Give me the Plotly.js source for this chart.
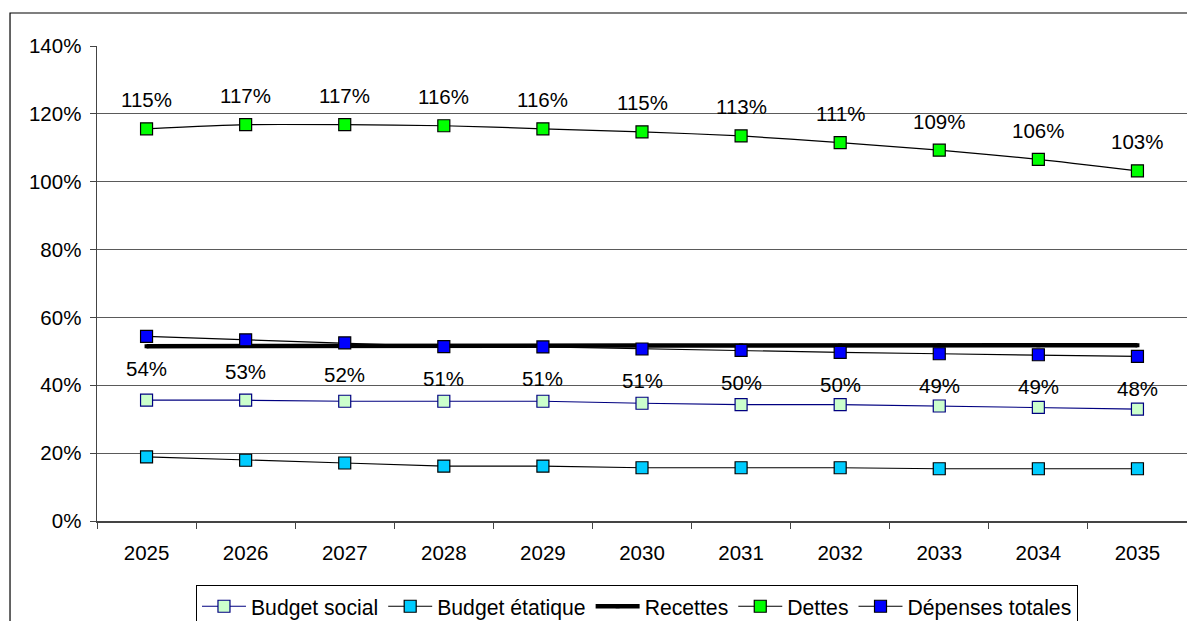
<!DOCTYPE html>
<html><head><meta charset="utf-8">
<script src="https://cdn.plot.ly/plotly-3.0.1.min.js"></script>
<style>html,body{margin:0;padding:0;background:#fff}#chart{width:1187px;height:621px}</style>
</head><body><div id="chart"></div>
<script>
const years = ['2025','2026','2027','2028','2029','2030','2031','2032','2033','2034','2035'];
const budgetSocial = [35.6,35.6,35.3,35.3,35.3,34.7,34.3,34.3,33.9,33.5,33.0];
const budgetEtatique = [18.9,17.9,17.1,16.2,16.2,15.7,15.7,15.7,15.4,15.4,15.4];
const recettes = [51.5,51.6,51.6,51.6,51.7,51.7,51.7,51.7,51.8,51.8,51.8];
const dettes = [115.6,116.8,116.8,116.5,115.6,114.7,113.5,111.5,109.3,106.6,103.2];
const depenses = [54.4,53.4,52.5,51.4,51.3,50.7,50.3,49.7,49.3,49.0,48.5];
const dettesLabels = ['115%','117%','117%','116%','116%','115%','113%','111%','109%','106%','103%'];
const depensesLabels = ['54%','53%','52%','51%','51%','51%','50%','50%','49%','49%','48%'];

const FONT = 'Liberation Sans, Arial, sans-serif';
const FS = 20.5;
function sq(fill, border){return {symbol:'square', size:12, color:fill, line:{color:border, width:1.2}};}

const traces = [
  {x:years, y:budgetSocial, name:'Budget social', mode:'lines+markers', line:{color:'#000080', width:1.2}, marker:sq('#CCFFCC','#000080')},
  {x:years, y:budgetEtatique, name:'Budget étatique', mode:'lines+markers', line:{color:'#000000', width:1.2}, marker:sq('#00CCFF','#000000')},
  {x:years, y:recettes, name:'Recettes', mode:'lines+markers', line:{color:'#000000', width:4.5}, marker:{symbol:'square', size:4, color:'#000000'}},
  {x:years, y:dettes, name:'Dettes', mode:'lines+markers', line:{color:'#000000', width:1.2, shape:'spline', smoothing:0.6}, marker:sq('#00FF00','#000000')},
  {x:years, y:depenses, name:'Dépenses totales', mode:'lines+markers', line:{color:'#000000', width:1.2}, marker:sq('#0000FF','#000000')}
];

const annotations = [];
years.forEach((yr,i)=>{
  annotations.push({x:i, y:dettes[i], xref:'x', yref:'y', text:dettesLabels[i], showarrow:false, yshift:29, font:{family:FONT, size:FS, color:'#000'}});
  annotations.push({x:i, y:depenses[i], xref:'x', yref:'y', text:depensesLabels[i], showarrow:false, yshift:-32, font:{family:FONT, size:FS, color:'#000'}});
});

const layout = {
  width:1187, height:621,
  margin:{l:97, r:0, t:46, b:100},
  paper_bgcolor:'#fff', plot_bgcolor:'#fff',
  font:{family:FONT, size:FS, color:'#000'},
  showlegend:true,
  legend:{orientation:'h', xref:'container', yref:'container', x:0.1651, xanchor:'left', y:0.058, yanchor:'top', bgcolor:'#fff', bordercolor:'#000', borderwidth:1, font:{family:FONT, size:21.2, color:'#000'}, itemwidth:44, tracegroupgap:0},
  xaxis:{type:'category', categoryorder:'array', categoryarray:years, range:[-0.5,10.5], tickson:'boundaries', ticks:'outside', ticklen:6, tickcolor:'#444', showline:true, linecolor:'#444', linewidth:1.5, showgrid:false, zeroline:false, ticklabelstandoff:13, tickfont:{family:FONT, size:FS, color:'#000'}, fixedrange:true},
  yaxis:{range:[0,140], dtick:20, ticksuffix:'%', ticks:'outside', ticklen:6, tickcolor:'#444', showline:true, linecolor:'#444', linewidth:1.5, showgrid:true, gridcolor:'#5a5a5a', gridwidth:1, zeroline:false, ticklabelstandoff:4, tickfont:{family:FONT, size:FS, color:'#000'}, fixedrange:true},
  annotations:annotations,
  shapes:[{type:'rect', xref:'paper', yref:'paper', x0:-0.0798, x1:1.05, y0:-0.4, y1:1.0695, line:{color:'#000', width:1.2}, fillcolor:'rgba(0,0,0,0)', layer:'above'}]
};

Plotly.newPlot('chart', traces, layout, {displayModeBar:false, staticPlot:true});
</script></body></html>
